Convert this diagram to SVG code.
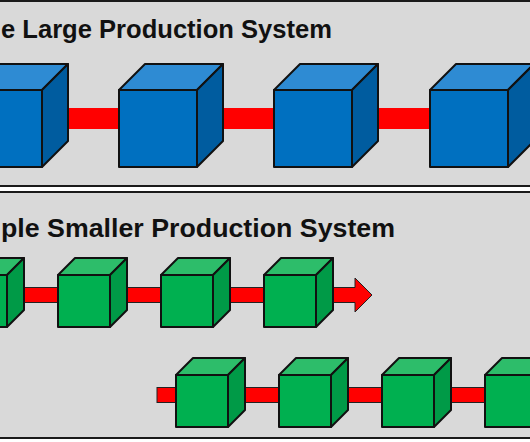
<svg xmlns="http://www.w3.org/2000/svg" width="530" height="442" viewBox="0 0 530 442">
<defs>
<style>
.panel{fill:#d9d9d9;stroke:#1a1a1a;stroke-width:2}
.title{font-family:"Liberation Sans",Arial,sans-serif;font-weight:bold;font-size:26px;fill:#111}
.bf{fill:#0070c0}.bt{fill:#2e8bd3}.bs{fill:#005c9f}
.gf{fill:#00b050}.gt{fill:#2dbd6a}.gs{fill:#009a47}
.cube *{stroke:#111;stroke-width:2;stroke-linejoin:round}
.bar{fill:#ff0000}
.gbar{fill:#ff0000;stroke:#222;stroke-width:1}
</style>
</defs>
<rect width="530" height="442" fill="#ffffff"/>
<rect class="panel" x="-10" y="1" width="550" height="185"/>
<rect class="panel" x="-10" y="192" width="550" height="246"/>
<text class="title" x="1" y="38" textLength="331" lengthAdjust="spacingAndGlyphs">e Large Production System</text>
<text class="title" x="1" y="237" textLength="394" lengthAdjust="spacingAndGlyphs">ple Smaller Production System</text>

<g id="connectors">
<rect class="bar" x="50" y="108" width="80" height="21"/>
<rect class="bar" x="205" y="108" width="80" height="21"/>
<rect class="bar" x="360" y="108" width="80" height="21"/>
<rect class="bar" x="515" y="108" width="20" height="21"/>
<rect class="gbar" x="15" y="287.5" width="50" height="15"/>
<rect class="gbar" x="118" y="287.5" width="50" height="15"/>
<rect class="gbar" x="221" y="287.5" width="50" height="15"/>
<polygon class="gbar" points="320,287.5 355,287.5 355,278 372,295 355,312 355,302.5 320,302.5"/>
<rect class="gbar" x="157" y="387.5" width="25" height="15"/>
<rect class="gbar" x="235" y="387.5" width="50" height="15"/>
<rect class="gbar" x="338" y="387.5" width="50" height="15"/>
<rect class="gbar" x="441" y="387.5" width="50" height="15"/>
</g>

<g id="blue1" class="cube">
<polygon class="bt" points="-36,90 -10,64 68,64 42,90"/>
<polygon class="bs" points="42,90 68,64 68,141 42,167"/>
<rect class="bf" x="-36" y="90" width="78" height="77"/>
</g>
<g id="blue2" class="cube">
<polygon class="bt" points="119,90 145,64 223,64 197,90"/>
<polygon class="bs" points="197,90 223,64 223,141 197,167"/>
<rect class="bf" x="119" y="90" width="78" height="77"/>
</g>
<g id="blue3" class="cube">
<polygon class="bt" points="274,90 300,64 378,64 352,90"/>
<polygon class="bs" points="352,90 378,64 378,141 352,167"/>
<rect class="bf" x="274" y="90" width="78" height="77"/>
</g>
<g id="blue4" class="cube">
<polygon class="bt" points="430,90 456,64 534,64 508,90"/>
<polygon class="bs" points="508,90 534,64 534,141 508,167"/>
<rect class="bf" x="430" y="90" width="78" height="77"/>
</g>

<g id="green1" class="cube">
<polygon class="gt" points="-45,275 -28,258 24,258 7,275"/>
<polygon class="gs" points="7,275 24,258 24,310 7,327"/>
<rect class="gf" x="-45" y="275" width="52" height="52"/>
</g>
<g id="green2" class="cube">
<polygon class="gt" points="58,275 75,258 127,258 110,275"/>
<polygon class="gs" points="110,275 127,258 127,310 110,327"/>
<rect class="gf" x="58" y="275" width="52" height="52"/>
</g>
<g id="green3" class="cube">
<polygon class="gt" points="161,275 178,258 230,258 213,275"/>
<polygon class="gs" points="213,275 230,258 230,310 213,327"/>
<rect class="gf" x="161" y="275" width="52" height="52"/>
</g>
<g id="green4" class="cube">
<polygon class="gt" points="264,275 281,258 333,258 316,275"/>
<polygon class="gs" points="316,275 333,258 333,310 316,327"/>
<rect class="gf" x="264" y="275" width="52" height="52"/>
</g>

<g id="green5" class="cube">
<polygon class="gt" points="176,375 193,358 245,358 228,375"/>
<polygon class="gs" points="228,375 245,358 245,410 228,427"/>
<rect class="gf" x="176" y="375" width="52" height="52"/>
</g>
<g id="green6" class="cube">
<polygon class="gt" points="279,375 296,358 348,358 331,375"/>
<polygon class="gs" points="331,375 348,358 348,410 331,427"/>
<rect class="gf" x="279" y="375" width="52" height="52"/>
</g>
<g id="green7" class="cube">
<polygon class="gt" points="382,375 399,358 451,358 434,375"/>
<polygon class="gs" points="434,375 451,358 451,410 434,427"/>
<rect class="gf" x="382" y="375" width="52" height="52"/>
</g>
<g id="green8" class="cube">
<polygon class="gt" points="485,375 502,358 554,358 537,375"/>
<polygon class="gs" points="537,375 554,358 554,410 537,427"/>
<rect class="gf" x="485" y="375" width="52" height="52"/>
</g>
</svg>
